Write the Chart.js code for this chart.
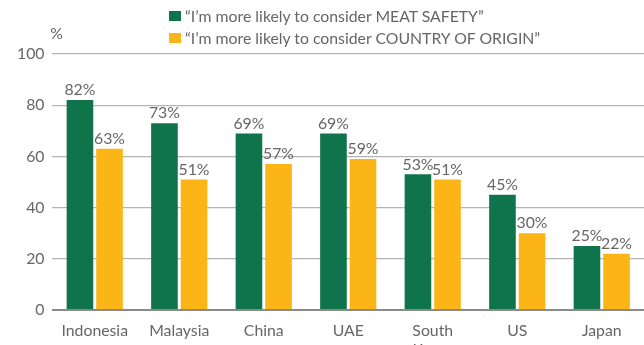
<!DOCTYPE html>
<html><head><meta charset="utf-8">
<script src="https://cdn.jsdelivr.net/npm/chart.js@4"></script>
<style>
html,body{margin:0;padding:0;background:#fff;overflow:hidden;width:644px;height:345px;}
#wrap{position:absolute;left:0;top:0;width:644px;height:362px;}
#legend{position:absolute;left:169px;top:5px;font-family:Lato,"Open Sans",sans-serif;font-size:15.8px;color:#666;line-height:22px;}
#legend .it{display:flex;align-items:center;white-space:nowrap;}
#legend .sw{width:12px;height:10px;margin-right:4px;display:inline-block;}
</style></head>
<body>
<div id="wrap"><canvas id="c"></canvas></div>
<div id="legend"></div>
<script>
const categories = ["Indonesia","Malaysia","China","UAE",["South","Korea"],"US","Japan"];
const meatSafety = [82,73,69,69,53,45,25];
const countryOfOrigin = [63,51,57,59,51,30,22];
const seriesLabels = ["\u201cI\u2019m more likely to consider MEAT SAFETY\u201d","\u201cI\u2019m more likely to consider COUNTRY OF ORIGIN\u201d"];
const yTicks = [0,20,40,60,80,100];
const colors = ["#0f744b","#fbb517"];
const FONT = 'Lato, "Open Sans", sans-serif';

const labelPlugin = {
  id:'lbl',
  afterDatasetsDraw(chart){
    const ctx = chart.ctx;
    ctx.save();
    ctx.font = '15.8px ' + FONT;
    ctx.fillStyle = '#666';
    ctx.textAlign = 'center';
    ctx.textBaseline = 'bottom';
    chart.data.datasets.forEach((ds,i)=>{
      const meta = chart.getDatasetMeta(i);
      meta.data.forEach((bar,j)=>{
        ctx.fillText(ds.data[j] + '%', bar.x, bar.y - 2);
      });
    });
    const y = chart.scales.y.getPixelForValue(100);
    ctx.fillText('%', chart.chartArea.left + 4, y - 12);
    ctx.restore();
  }
};

new Chart(document.getElementById('c'), {
  type:'bar',
  data:{
    labels: categories,
    datasets:[
      {label: seriesLabels[0], data: meatSafety, backgroundColor: colors[0]},
      {label: seriesLabels[1], data: countryOfOrigin, backgroundColor: colors[1]}
    ]
  },
  options:{
    responsive:true, maintainAspectRatio:false, animation:false,
    layout:{padding:{top:54,right:0,left:9,bottom:0}},
    datasets:{bar:{categoryPercentage:0.7, barPercentage:0.9}},
    plugins:{legend:{display:false}, tooltip:{enabled:false}},
    scales:{
      x:{
        grid:{display:false}, border:{display:false},
        ticks:{color:'#666', font:{family:FONT,size:15.8}, padding:3, maxRotation:0, autoSkip:false}
      },
      y:{
        min:0, max:100,
        afterBuildTicks(axis){ axis.ticks = yTicks.map(v=>({value:v})); },
        border:{display:false},
        grid:{drawTicks:false, color:(c)=> c.tick && c.tick.value===0 ? '#8a8a8a' : '#b4b4b4', lineWidth:(c)=> c.tick && c.tick.value===0 ? 2 : 1.2},
        ticks:{color:'#666', font:{family:FONT,size:15.8}, padding:8}
      }
    }
  },
  plugins:[labelPlugin]
});

const lg = document.getElementById('legend');
seriesLabels.forEach((t,i)=>{
  const d = document.createElement('div'); d.className='it';
  const s = document.createElement('span'); s.className='sw'; s.style.background=colors[i];
  const tx = document.createElement('span'); tx.textContent = t;
  d.appendChild(s); d.appendChild(tx); lg.appendChild(d);
});
</script>
</body></html>
